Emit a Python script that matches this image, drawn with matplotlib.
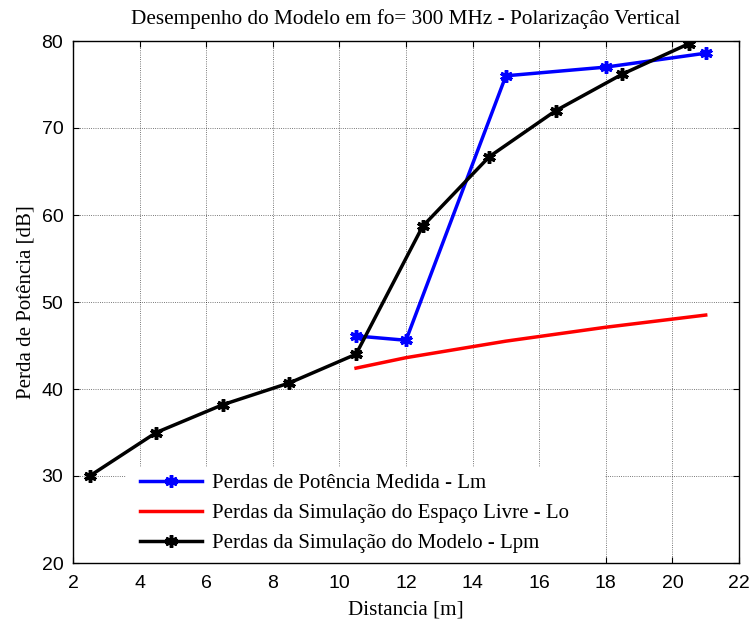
import matplotlib
matplotlib.use("Agg")
import matplotlib.pyplot as plt
from matplotlib.patches import Rectangle

# dados
dist_lm = [10.5, 12, 15, 18, 21]
perda_lm = [46.1, 45.6, 76.0, 77.0, 78.6]

dist_lo = [10.5, 12, 15, 18, 21]
perda_lo = [42.4, 43.6, 45.5, 47.1, 48.5]

dist_lpm = [2.5, 4.5, 6.5, 8.5, 10.5, 12.5, 14.5, 16.5, 18.5, 20.5]
perda_lpm = [30.0, 35.0, 38.2, 40.7, 44.0, 58.7, 66.7, 72.0, 76.2, 79.7]

xticks = [2, 4, 6, 8, 10, 12, 14, 16, 18, 20, 22]
yticks = [20, 30, 40, 50, 60, 70, 80]

serif = "Liberation Serif"
sans = "Liberation Sans"

fig = plt.figure(figsize=(7.52, 6.25), dpi=100)
ax = fig.add_axes([73/752, 1-563/625, 666/752, 522/625])

ast = (6, 2, 0)
ax.plot(dist_lm, perda_lm, color='blue', lw=2.5, marker=ast, ms=9, mew=2.5,
        label='Perdas de Potência Medida - Lm', zorder=3)
ax.plot(dist_lo, perda_lo, color='red', lw=2.5,
        label='Perdas da Simulação do Espaço Livre - Lo', zorder=3)
ax.plot(dist_lpm, perda_lpm, color='black', lw=2.5, marker=ast, ms=9, mew=2.5,
        label='Perdas da Simulação do Modelo - Lpm', zorder=3)

ax.set_xlim(2, 22)
ax.set_ylim(20, 80)
ax.set_xticks(xticks)
ax.set_yticks(yticks)
ax.grid(True, color='black', linestyle=':', linewidth=0.6, alpha=0.7)
ax.tick_params(direction='in', top=True, right=True, labelsize=14, length=4, pad=7)
ax.tick_params(axis='x', pad=9)
for lab in ax.get_xticklabels() + ax.get_yticklabels():
    lab.set_fontfamily(sans)
for s in ax.spines.values():
    s.set_linewidth(1.0)

ax.set_title('Desempenho do Modelo em fo= 300 MHz - Polarizaçâo Vertical',
             fontfamily=serif, fontsize=15.3, pad=12)
ax.set_xlabel('Distancia [m]', fontfamily=serif, fontsize=15.2, labelpad=6)
ax.set_ylabel('Perda de Potência [dB]', fontfamily=serif, fontsize=15, labelpad=4)

# fundo branco da legenda (caixa sem borda)
ax.add_patch(Rectangle((0.08, 0.0), 0.719, 0.184, transform=ax.transAxes,
                       facecolor='white', edgecolor='none', zorder=2.5))

leg = ax.legend(loc='upper left', bbox_to_anchor=(0.1006, 0.172), borderaxespad=0,
                prop={'family': serif, 'size': 15}, frameon=False,
                handlelength=3.0, labelspacing=0.5, borderpad=0, handletextpad=0.48)

fig.savefig('out.png', dpi=100)
